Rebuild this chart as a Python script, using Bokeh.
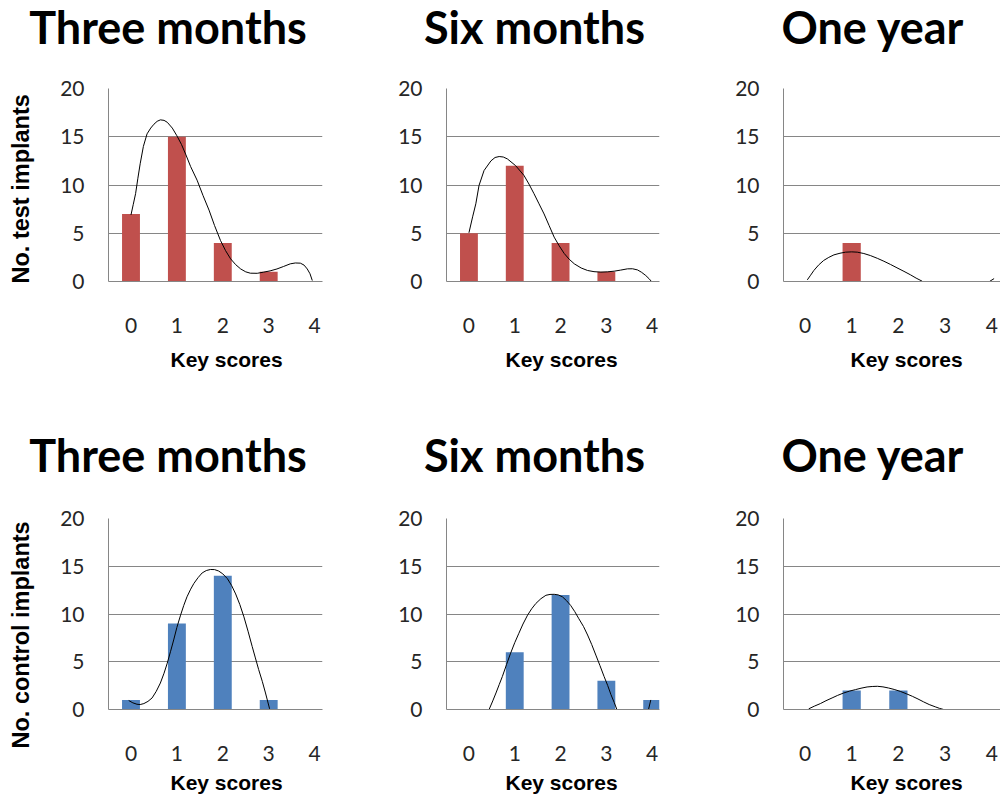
import math
from bokeh.plotting import figure
from bokeh.models import Range1d, FixedTicker, Title
from bokeh.core.properties import value
from bokeh.layouts import column, row
from bokeh.embed import file_html
from bokeh.resources import INLINE

# ---------------- data ----------------
scores = [0, 1, 2, 3, 4]
score_labels = ["0", "1", "2", "3", "4"]
count_ticks = [0, 5, 10, 15, 20]
titles = ["Three months", "Six months", "One year"]
x_title = "Key scores"
y_titles = ["No. test implants", "No. control implants"]

test_3m = [7, 15, 4, 1, 0]
test_6m = [5, 12, 4, 1, 0]
test_1y = [0, 4, 0, 0, 0]
ctrl_3m = [1, 9, 14, 1, 0]
ctrl_6m = [0, 6, 12, 3, 1]
ctrl_1y = [0, 2, 2, 0, 0]

# smooth curves (NaN = gap)
nan = float("nan")
curve_test_3m_x = [0.0, 0.05, 0.1, 0.15, 0.2, 0.27, 0.35, 0.43, 0.5, 0.57, 0.64, 0.72, 0.79, 0.9, 1.0, 1.1, 1.19,
                   1.3, 1.44, 1.57, 1.7, 1.82, 1.95, 2.06, 2.17, 2.28, 2.39, 2.5, 2.6, 2.75, 2.89, 3.03, 3.18,
                   3.32, 3.47, 3.58, 3.69, 3.77, 3.84, 3.9, 3.95]
curve_test_3m_y = [6.9, 8.0, 9.1, 10.7, 12.2, 14.0, 15.3, 15.9, 16.3, 16.6, 16.75, 16.7, 16.5, 15.9, 15.1, 14.2, 13.2,
                   11.9, 10.5, 8.9, 7.4, 5.8, 4.25, 3.2, 2.35, 1.75, 1.3, 1.0, 0.86, 0.85, 0.97, 1.1, 1.3,
                   1.55, 1.83, 1.92, 1.9, 1.7, 1.3, 0.8, 0.1]

curve_test_6m_x = [0.0, 0.08, 0.15, 0.22, 0.33, 0.48, 0.57, 0.66, 0.75, 0.84, 1.02, 1.2, 1.31, 1.42, 1.53, 1.64,
                   1.75, 1.86, 1.97, 2.08, 2.19, 2.3, 2.45, 2.59, 2.73, 2.88, 3.02, 3.17, 3.31, 3.46, 3.57,
                   3.68, 3.77, 3.86, 3.93, 3.98]
curve_test_6m_y = [5.05, 6.7, 8.05, 9.95, 11.5, 12.5, 12.85, 12.95, 12.9, 12.7, 12.0, 11.0, 10.1, 9.1, 8.05, 7.0,
                   5.8, 4.6, 3.7, 2.9, 2.3, 1.83, 1.4, 1.14, 1.02, 0.97, 1.0, 1.07, 1.18, 1.31, 1.32,
                   1.2, 0.95, 0.62, 0.3, 0.03]

curve_test_1y_x = [0.05, 0.12, 0.19, 0.29, 0.4, 0.51, 0.62, 0.75, 0.87, 1.0, 1.12, 1.26, 1.4, 1.55, 1.69, 1.83,
                   1.97, 2.12, 2.26, 2.38, 2.51, nan, 3.95, 4.05]
curve_test_1y_y = [0.17, 0.65, 1.14, 1.7, 2.18, 2.5, 2.76, 2.93, 3.04, 3.07, 3.04, 2.9, 2.69, 2.4, 2.1, 1.77,
                   1.42, 1.05, 0.69, 0.35, 0.03, nan, 0.0, 0.3]

curve_ctrl_3m_x = [-0.05, 0.04, 0.13, 0.2, 0.28, 0.37, 0.46, 0.55, 0.64, 0.72, 0.79, 0.86, 0.93, 1.0, 1.08, 1.15,
                   1.22, 1.3, 1.37, 1.46, 1.55, 1.64, 1.73, 1.82, 1.91, 2.0, 2.1, 2.19, 2.28, 2.37, 2.46, 2.55,
                   2.64, 2.71, 2.78, 2.86, 2.93, 3.02]
curve_ctrl_3m_y = [0.94, 0.7, 0.55, 0.52, 0.62, 0.85, 1.21, 1.9, 2.77, 3.8, 4.85, 6.05, 7.28, 8.6, 9.88, 10.9,
                   11.8, 12.6, 13.2, 13.8, 14.3, 14.55, 14.66, 14.65, 14.5, 14.2, 13.7, 13.0, 12.1, 11.0, 9.7, 8.2,
                   6.6, 5.4, 4.2, 2.95, 1.73, 0.07]

curve_ctrl_6m_x = [0.44, 0.52, 0.59, 0.66, 0.73, 0.82, 0.91, 1.0, 1.09, 1.18, 1.28, 1.37, 1.46, 1.57, 1.68, 1.77,
                   1.86, 1.95, 2.04, 2.13, 2.22, 2.31, 2.4, 2.5, 2.59, 2.68, 2.77, 2.86, 2.95, 3.03, 3.1,
                   3.17, 3.23, nan, 3.92, 3.97]
curve_ctrl_6m_y = [0.0, 0.9, 1.73, 2.6, 3.46, 4.7, 5.9, 7.0, 7.98, 8.95, 9.88, 10.55, 11.1, 11.6, 11.96, 12.05,
                   12.06, 12.0, 11.8, 11.4, 10.9, 10.25, 9.5, 8.7, 7.8, 6.8, 5.7, 4.6, 3.46, 2.5, 1.56,
                   0.75, 0.0, nan, 0.0, 1.0]

curve_ctrl_1y_x = [0.08, 0.2, 0.33, 0.45, 0.58, 0.7, 0.83, 0.95, 1.08, 1.2, 1.33, 1.44, 1.55, 1.67, 1.79, 1.91,
                   2.04, 2.17, 2.3, 2.42, 2.54, 2.66, 2.79, 2.88, 2.97]
curve_ctrl_1y_y = [0.07, 0.35, 0.62, 0.92, 1.21, 1.48, 1.73, 1.92, 2.08, 2.23, 2.36, 2.41, 2.43, 2.37, 2.25, 2.1,
                   1.9, 1.65, 1.38, 1.1, 0.8, 0.52, 0.28, 0.12, 0.0]

test_counts = [test_3m, test_6m, test_1y]
ctrl_counts = [ctrl_3m, ctrl_6m, ctrl_1y]
test_curves = [(curve_test_3m_x, curve_test_3m_y), (curve_test_6m_x, curve_test_6m_y),
               (curve_test_1y_x, curve_test_1y_y)]
ctrl_curves = [(curve_ctrl_3m_x, curve_ctrl_3m_y), (curve_ctrl_6m_x, curve_ctrl_6m_y),
               (curve_ctrl_1y_x, curve_ctrl_1y_y)]

# ---------------- layout / style ----------------
RED = "#C0504D"
BLUE = "#4F81BD"
GRID = "#868686"
TICK_FONT = "Lato"
TITLE_FONT = "Lato"
LABEL_FONT = "Liberation Sans"

TOTAL_W = 1000
YLAB_W = 40
col_widths = [330 - YLAB_W, 330, 340]
col_left = [108 - YLAB_W, 116, 123]
col_right = [8, 1, 0]
x_ranges = [(-0.49, 4.172), (-0.49, 4.16), (-0.46, 4.187)]
title_cx = [167.5, 534, 872.5]
key_offset = [62, 59, 67]
ylab_x = 20.5

rows_cfg = [
    dict(strip_h=60, title_base=34, height=358, top=28, bottom=137, key_standoff=20, ylab_start=135),
    dict(strip_h=66, title_base=30, height=314, top=34, bottom=88, key_standoff=10, ylab_start=50),
]


def bare(width, height):
    p = figure(width=width, height=height, output_backend="svg", toolbar_location=None,
               x_range=Range1d(0, width), y_range=Range1d(0, height),
               x_axis_type=None, y_axis_type=None, min_border=0)
    p.outline_line_color = None
    p.grid.visible = False
    p.background_fill_color = "white"
    p.border_fill_color = "white"
    return p


def title_strip(r):
    cfg = rows_cfg[r]
    s = bare(TOTAL_W, cfg["strip_h"])
    s.text(x=title_cx, y=[cfg["title_base"]] * 3, text=titles, text_font=value(TITLE_FONT),
           text_font_style="bold", text_font_size=value("45px"), text_color="black",
           text_align="center", text_baseline="alphabetic")
    return s


def ylab_strip(r):
    cfg = rows_cfg[r]
    s = bare(YLAB_W, cfg["height"])
    s.text(x=[ylab_x], y=[cfg["ylab_start"]], text=[y_titles[r]], text_font=value(LABEL_FONT),
           text_font_style="bold", text_font_size=value("23.5px"), text_color="black",
           angle=math.pi / 2, text_align="left", text_baseline="alphabetic")
    return s


def make_panel(r, c, counts, curve, color):
    cfg = rows_cfg[r]
    p = figure(width=col_widths[c], height=cfg["height"], output_backend="svg", toolbar_location=None,
               x_range=Range1d(*x_ranges[c]), y_range=Range1d(0, 20),
               min_border_left=col_left[c], min_border_right=col_right[c],
               min_border_top=cfg["top"], min_border_bottom=cfg["bottom"])
    p.outline_line_color = None
    p.background_fill_color = "white"
    p.border_fill_color = "white"

    p.vbar(x=scores, top=counts, width=0.39, bottom=0, fill_color=color, line_color=None)
    p.line(x=curve[0], y=curve[1], line_color="black", line_width=1)

    p.xgrid.visible = False
    p.ygrid.grid_line_color = GRID
    p.ygrid.grid_line_width = 1
    p.ygrid.ticker = FixedTicker(ticks=count_ticks)

    p.xaxis.ticker = FixedTicker(ticks=scores)
    p.xaxis.major_label_overrides = {s: l for s, l in zip(scores, score_labels)}
    p.yaxis.ticker = FixedTicker(ticks=count_ticks)
    for ax in (p.xaxis[0], p.yaxis[0]):
        ax.axis_line_color = GRID
        ax.axis_line_width = 1
        ax.major_tick_in = 0
        ax.major_tick_out = 0
        ax.minor_tick_in = 0
        ax.minor_tick_out = 0
        ax.major_label_text_font = TICK_FONT
        ax.major_label_text_font_size = "21px"
        ax.major_label_text_color = "#262626"
    p.xaxis.major_label_standoff = 36
    p.yaxis.major_label_standoff = 24

    p.add_layout(Title(text=x_title, align="left", offset=key_offset[c],
                       standoff=cfg["key_standoff"], text_font=LABEL_FONT,
                       text_font_style="bold", text_font_size="21px", text_color="black"), "below")
    return p


top = [make_panel(0, c, test_counts[c], test_curves[c], RED) for c in range(3)]
bottom = [make_panel(1, c, ctrl_counts[c], ctrl_curves[c], BLUE) for c in range(3)]

layout = column(
    title_strip(0),
    row(ylab_strip(0), column(row(*top))),
    title_strip(1),
    row(ylab_strip(1), column(row(*bottom))),
)
open("out.html", "w").write(file_html(layout, INLINE))
